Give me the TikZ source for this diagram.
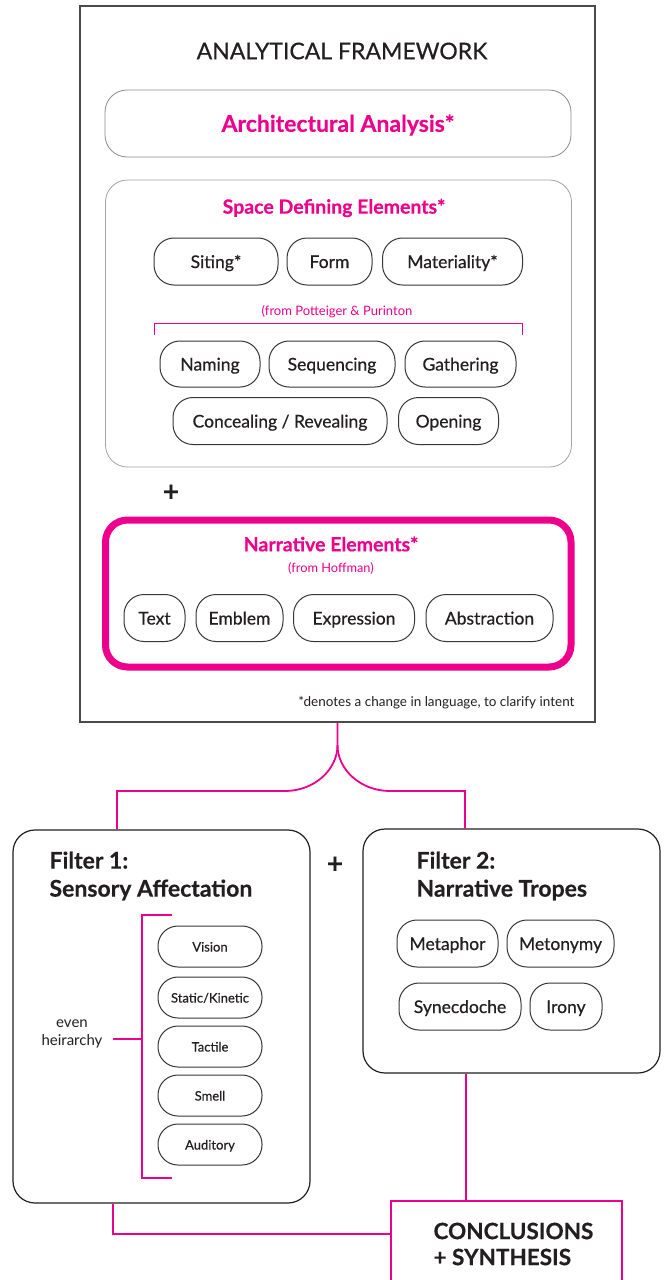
\documentclass[tikz,border=0pt]{standalone}
\usepackage{fontspec}
\setmainfont{Lato}[BoldFeatures={FakeBold=0.4}]
\newfontfamily\medfont{Lato}[FakeBold=0.5]
\definecolor{mag}{HTML}{EC008C}
\definecolor{ink}{HTML}{231F20}
\definecolor{frameg}{HTML}{4A4A4A}
\definecolor{lightg}{HTML}{8C8C8C}
\tikzset{
  pill/.style={draw=ink!90, line width=1pt, rounded corners=20pt, inner sep=0pt, text=ink,
    minimum height=47pt, text height=13pt, text depth=0pt, font=\medfont\fontsize{17.5}{19}\selectfont},
  spill/.style={pill, minimum height=41pt, minimum width=104pt, text height=10pt, font=\medfont\fontsize{13}{15}\selectfont},
  conn/.style={draw=mag, line width=1.8pt},
  magbold/.style={text=mag, font=\bfseries\fontsize{#1}{#1}\selectfont},
  magsmall/.style={text=mag, font=\fontsize{#1}{#1}\selectfont},
  filterbox/.style={draw=ink, line width=1.2pt, rounded corners=22pt, minimum width=297pt, inner sep=0pt},
}
\begin{document}
\begin{tikzpicture}[x=1pt,y=-1pt]
\useasboundingbox[fill=white] (0,0) rectangle (668,1280);

% main frame
\node[draw=frameg, line width=1.2pt, minimum width=515pt, minimum height=716pt, inner sep=0pt] (frame) at (337.5,364) {};
\node[text=ink, font=\medfont\fontsize{23}{25}\selectfont] (title) at (342,51) {ANALYTICAL FRAMEWORK};

% architectural analysis
\node[draw=lightg, line width=0.8pt, rounded corners=22pt, minimum width=466pt, minimum height=67pt, inner sep=0pt] (arch) at (338,123.5) {};
\node[magbold=23] (archt) at (338,125) {Architectural Analysis*};

% space defining elements
\node[draw=lightg!80, line width=0.8pt, rounded corners=22pt, minimum width=466pt, minimum height=287pt, inner sep=0pt] (space) at (338.5,323.5) {};
\node[magbold=19.5] (spacet) at (334,208) {Space Defining Elements*};
\node[pill, minimum width=124pt] (siting) at (216,261.5) {Siting*};
\node[pill, minimum width=85pt] (form) at (329.5,261.5) {Form};
\node[pill, minimum width=140pt] (mat) at (452.5,261.5) {Materiality*};
\node[magsmall=13] (pott) at (337,312) {(from Potteiger \& Purinton};
\draw[mag, line width=0.9pt] (154,335) -- (154,323) -- (522,323) -- (522,335);
\node[pill, minimum width=100pt, minimum height=46pt] (naming) at (210,364) {Naming};
\node[pill, minimum width=126pt, minimum height=46pt] (seq) at (332,364) {Sequencing};
\node[pill, minimum width=111pt, minimum height=46pt] (gath) at (460.5,364) {Gathering};
\node[pill, minimum width=214pt] (conc) at (280,421) {Concealing / Revealing};
\node[pill, minimum width=100pt] (open) at (448.5,421) {Opening};

\node[text=ink, font=\bfseries\fontsize{28}{28}\selectfont] (plus1) at (171,493) {+};

% narrative elements
\node[draw=mag, line width=7pt, rounded corners=22pt, minimum width=465.5pt, minimum height=147pt, inner sep=0pt] (narr) at (338.25,593.5) {};
\node[magbold=19.5] (narrt) at (331,544) {Narrative Elements*};
\node[magsmall=12.8] (hoff) at (331,568) {(from Hoffman)};
\node[pill, minimum width=61pt] (text) at (154.5,618) {Text};
\node[pill, minimum width=87pt] (emb) at (239.5,618) {Emblem};
\node[pill, minimum width=121pt] (expr) at (354,618) {Expression};
\node[pill, minimum width=127pt] (abst) at (489.5,618) {Abstraction};

\node[anchor=east, text=ink, font=\fontsize{13.5}{15}\selectfont] (note) at (578,703) {*denotes a change in language, to clarify intent};

% filter boxes
\node[filterbox, minimum height=373pt] (f1) at (161.5,1016.5) {};
\node[filterbox, minimum height=244pt] (f2) at (511.5,951) {};
\node[anchor=west, align=left, text=ink, font=\bfseries\fontsize{23}{28}\selectfont] (f1t) at (46,876) {Filter 1:\\Sensory Affectation};
\node[anchor=west, align=left, text=ink, font=\bfseries\fontsize{23}{28}\selectfont] (f2t) at (413,876) {Filter 2:\\Narrative Tropes};
\node[text=ink, font=\bfseries\fontsize{28}{28}\selectfont] (plus2) at (335,865) {+};

% filter 1 items
\node[spill] (vision) at (210,946.5) {Vision};
\node[spill] (stat) at (210,997.5) {Static/Kinetic};
\node[spill] (tact) at (210,1046.5) {Tactile};
\node[spill] (smell) at (210,1095.5) {Smell};
\node[spill] (aud) at (210,1144.5) {Auditory};
\draw[mag, line width=1.8pt] (172,915) -- (142,915) -- (142,1178) -- (172,1178);
\draw[mag, line width=1.8pt] (113,1039) -- (142,1039);
\node[align=center, text=ink, font=\fontsize{15}{18}\selectfont] (even) at (72,1034) {even\\heirarchy};

% filter 2 items
\node[pill, minimum width=101pt] (meta) at (447.5,943.5) {Metaphor};
\node[pill, minimum width=107pt] (meto) at (560.5,943.5) {Metonymy};
\node[pill, minimum width=122pt] (syn) at (460,1006.5) {Synecdoche};
\node[pill, minimum width=72pt] (iron) at (566,1006.5) {Irony};

% conclusions
\node[draw=mag, line width=1.8pt, minimum width=231pt, minimum height=120pt, inner sep=0pt] (concl) at (506.5,1261) {};
\node[anchor=west, align=left, text=ink, font=\bfseries\fontsize{22.5}{26}\selectfont] (conclt) at (430,1244) {CONCLUSIONS\\+ SYNTHESIS};

% connectors
\coordinate (split) at (337.5,745);
\draw[conn] (frame.south) -- (split) .. controls (337.5,770) and (314,791) .. (285,791) -| ([xshift=-44.5pt]f1.north);
\draw[conn] (split) .. controls (337.5,770) and (361,791) .. (390,791) -| ([xshift=-46.5pt]f2.north);
\draw[conn] ([xshift=-45.5pt]f2.south) -- ([xshift=-45.5pt]f2.south |- concl.north);
\draw[conn] ([xshift=-48.5pt]f1.south) |- ([yshift=-34pt]concl.north west);
\end{tikzpicture}
\end{document}
